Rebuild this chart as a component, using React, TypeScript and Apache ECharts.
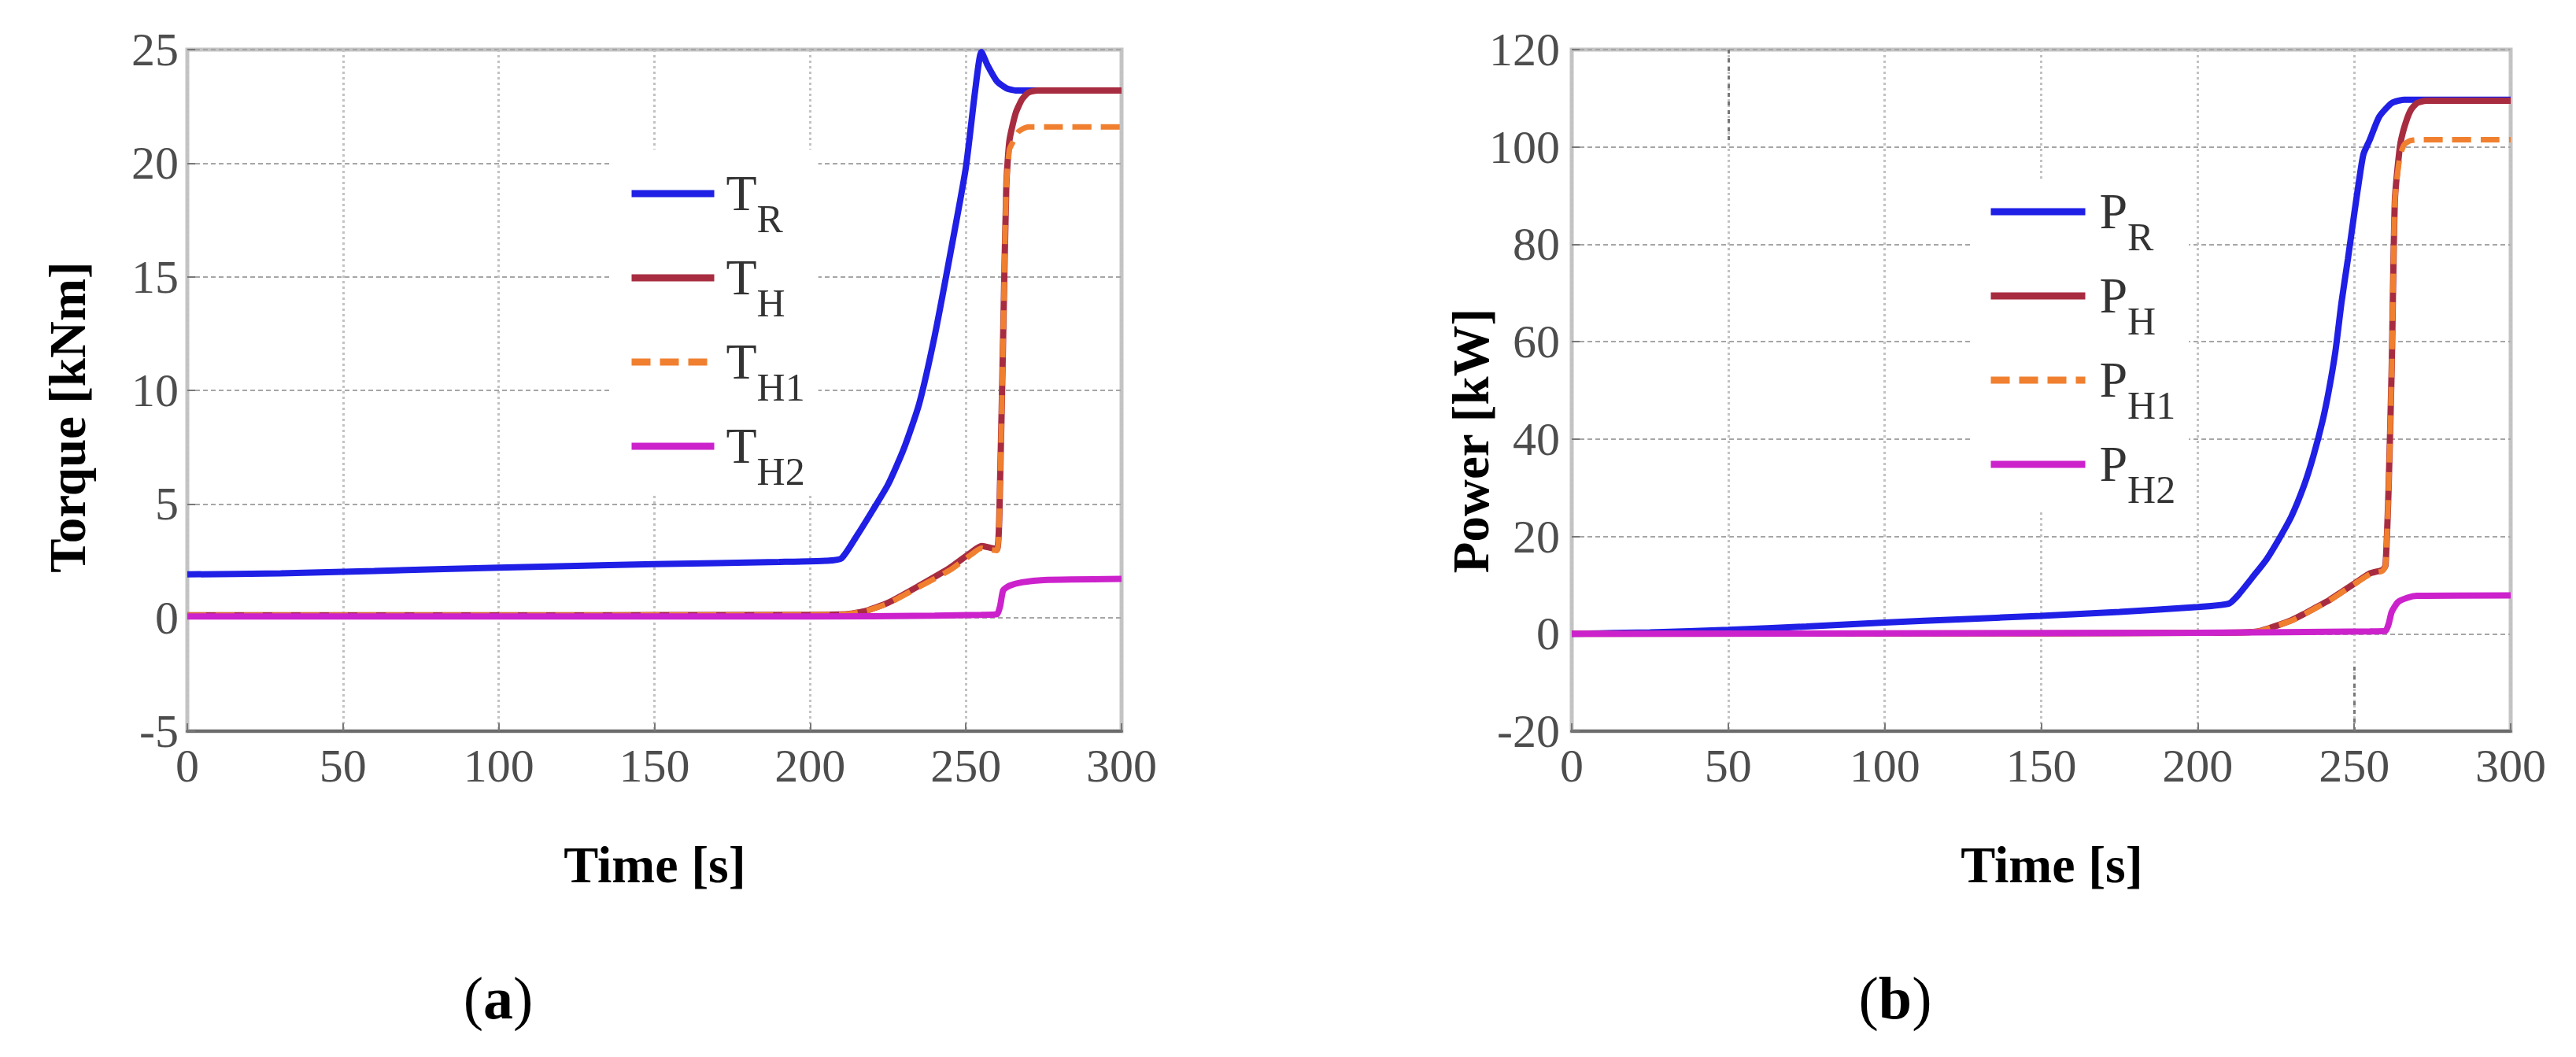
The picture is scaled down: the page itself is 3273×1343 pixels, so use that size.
import { useEffect, useRef } from "react";
import * as echarts from "echarts";

// [time s, torque kNm]
const torqueR: [number, number][] = [
  [0, 1.9], [30, 1.95], [60, 2.05], [100, 2.2], [150, 2.35], [190, 2.45], [205, 2.5], [210, 2.6],
  [215, 3.6], [220, 4.7], [225, 5.85], [230, 7.4], [235, 9.4], [240, 12.4], [245, 16.0], [250, 19.8],
  [253, 23.2], [255, 24.9], [257, 24.3], [260, 23.6], [263, 23.3], [266, 23.2], [300, 23.2],
];
const torqueH: [number, number][] = [
  [0, 0.1], [100, 0.1], [200, 0.12], [212, 0.15], [218, 0.3], [225, 0.65], [235, 1.4], [245, 2.2],
  [252, 2.9], [255, 3.15], [257, 3.1], [260, 3.0], [261, 6], [262, 12.5], [263, 19], [264, 21],
  [266, 22.2], [268, 22.8], [270, 23.1], [273, 23.2], [300, 23.2],
];
const torqueH1: [number, number][] = [
  [0, 0.1], [100, 0.1], [200, 0.12], [212, 0.15], [218, 0.3], [225, 0.62], [235, 1.35], [245, 2.1],
  [252, 2.8], [255, 3.05], [257, 3.0], [260, 2.95], [261, 6], [262, 12.5], [263, 19], [264, 20.6],
  [265, 20.9], [267, 21.4], [270, 21.6], [300, 21.6],
];
const torqueH2: [number, number][] = [
  [0, 0.05], [100, 0.05], [200, 0.05], [240, 0.08], [255, 0.12], [260, 0.15], [261, 0.5], [262, 1.2],
  [264, 1.4], [268, 1.55], [275, 1.65], [300, 1.7],
];

// [time s, power kW]
const powerR: [number, number][] = [
  [0, 0], [25, 0.3], [50, 0.8], [75, 1.5], [100, 2.3], [125, 3.0], [150, 3.7], [175, 4.5], [200, 5.5],
  [210, 6.2], [213, 8], [218, 12], [222, 15.3], [226, 19.5], [230, 24.2], [234, 30.5], [237, 36.6],
  [240, 44], [242, 50.3], [244, 58], [246, 68.3], [248, 77], [250, 86.2], [252, 95], [253, 98.6],
  [255, 101.5], [258, 106.2], [262, 109], [266, 109.7], [300, 109.7],
];
const powerH: [number, number][] = [
  [0, 0], [150, 0.1], [200, 0.2], [215, 0.3], [220, 0.6], [224, 1.4], [230, 2.8], [234, 4.1],
  [238, 5.5], [242, 6.9], [246, 8.6], [250, 10.3], [255, 12.4], [259, 13.1], [260, 14], [261, 30],
  [262, 55], [263, 89], [264.6, 100], [266, 104], [268, 107.5], [270, 109], [273, 109.5], [300, 109.5],
];
const powerH1: [number, number][] = [
  [0, 0], [150, 0.1], [200, 0.2], [215, 0.3], [220, 0.6], [224, 1.4], [230, 2.7], [234, 4.0],
  [238, 5.4], [242, 6.8], [246, 8.5], [250, 10.2], [255, 12.2], [259, 12.9], [260, 14], [261, 30],
  [262, 55], [263, 89], [264.6, 98], [266, 100.5], [268, 101.3], [272, 101.5], [300, 101.5],
];
const powerH2: [number, number][] = [
  [0, 0], [200, 0.2], [255, 0.5], [260, 0.6], [261, 2], [262, 4.5], [264, 6.5], [267, 7.4],
  [270, 7.8], [300, 7.9],
];

const torqueNames = ["T_R", "T_H", "T_H1", "T_H2"];
const powerNames = ["P_R", "P_H", "P_H1", "P_H2"];

const SERIF = "Liberation Serif";
const BLUE = "#1f1fe6";
const MAROON = "#a82c40";
const ORANGE = "#f08030";
const MAGENTA = "#cc22cc";

const legendRich = {
  m: { fontSize: 64, fontFamily: SERIF, color: "#333", lineHeight: 66, verticalAlign: "top", padding: [0, 0, 0, 10] },
  s: { fontSize: 50, fontFamily: SERIF, color: "#333", lineHeight: 50, verticalAlign: "top", padding: [40, 0, 0, 0] },
};

const subFormatter = (name: string) => {
  const [a, b] = name.split("_");
  return `{m|${a}}{s|${b}}`;
};

function lineSeries(name: string, data: [number, number][], color: string, idx: number, dashed = false) {
  return {
    name,
    type: "line",
    xAxisIndex: idx,
    yAxisIndex: idx,
    data,
    symbol: "none",
    smooth: 0.2,
    lineStyle: { color, width: dashed ? 7 : 8, type: dashed ? [24, 12] : "solid" },
    itemStyle: { color },
  };
}

function axisPair(idx: number, min: number, max: number, interval: number, labelMargin: number) {
  const label = { fontSize: 60, fontFamily: SERIF, color: "#4d4d4d" };
  const x = {
    type: "value",
    gridIndex: idx,
    min: 0,
    max: 300,
    interval: 50,
    axisLine: { show: true, onZero: false, lineStyle: { color: "#6b6b6b", width: 4 } },
    axisTick: { show: true, inside: true, length: 10, lineStyle: { color: "#777", width: 2 } },
    axisLabel: { ...label, margin: 14 },
    splitLine: { show: true, lineStyle: { color: "#c2c2c2", width: 3, type: [3, 4] } },
  };
  const y = {
    type: "value",
    gridIndex: idx,
    min,
    max,
    interval,
    axisLine: { show: false, onZero: false },
    axisTick: { show: true, inside: true, length: 10, lineStyle: { color: "#777", width: 2 } },
    axisLabel: { ...label, margin: labelMargin },
    splitLine: { show: true, lineStyle: { color: "#a6a6a6", width: 2, type: [6, 4] } },
  };
  return { x, y };
}

export default function App() {
  const ref = useRef<HTMLDivElement>(null);

  useEffect(() => {
    document.body.style.margin = "0";
    if (!ref.current) return;
    const chart = echarts.init(ref.current, undefined, { renderer: "svg" });
    const left = axisPair(0, -5, 25, 5, 11);
    const right = axisPair(1, -20, 120, 20, 15);

    chart.setOption({
      animation: false,
      backgroundColor: "#fff",
      textStyle: { fontFamily: SERIF },
      grid: [
        { left: 238, top: 63, width: 1187, height: 866, show: true, borderColor: "#c4c4c4", borderWidth: 5, backgroundColor: "#fff" },
        { left: 1997, top: 63, width: 1193, height: 866, show: true, borderColor: "#c4c4c4", borderWidth: 5, backgroundColor: "#fff" },
      ],
      xAxis: [left.x, right.x],
      yAxis: [left.y, right.y],
      legend: [
        {
          data: torqueNames,
          orient: "vertical",
          left: 778,
          top: 190,
          padding: [23, 17, 3, 20],
          itemGap: 17,
          itemWidth: 105,
          itemHeight: 14,
          backgroundColor: "#fff",
          selectedMode: false,
          lineStyle: { width: 9 },
          itemStyle: { opacity: 0 },
          formatter: subFormatter,
          textStyle: { rich: legendRich },
        },
        {
          data: powerNames,
          orient: "vertical",
          left: 2505,
          top: 230,
          padding: [6, 17, 3, 20],
          itemGap: 17,
          itemWidth: 120,
          itemHeight: 14,
          backgroundColor: "#fff",
          selectedMode: false,
          lineStyle: { width: 9 },
          itemStyle: { opacity: 0 },
          formatter: subFormatter,
          textStyle: { rich: { ...legendRich, m: { ...legendRich.m, padding: [0, 0, 0, 13] } } },
        },
      ],
      series: [
        lineSeries("T_R", torqueR, BLUE, 0),
        lineSeries("T_H", torqueH, MAROON, 0),
        lineSeries("T_H1", torqueH1, ORANGE, 0, true),
        lineSeries("T_H2", torqueH2, MAGENTA, 0),
        {
          ...lineSeries("P_R", powerR, BLUE, 1),
          markLine: {
            silent: true,
            symbol: "none",
            label: { show: false },
            lineStyle: { color: "#777", width: 3, type: [5, 6] },
            data: [
              [{ coord: [50, 120] }, { coord: [50, 101] }],
              [{ coord: [250, -20] }, { coord: [250, -6] }],
            ],
          },
        },
        lineSeries("P_H", powerH, MAROON, 1),
        lineSeries("P_H1", powerH1, ORANGE, 1, true),
        lineSeries("P_H2", powerH2, MAGENTA, 1),
      ],
      graphic: [
        {
          type: "text", x: 86, y: 530, rotation: Math.PI / 2,
          style: { text: "Torque [kNm]", fontSize: 65, fontWeight: "bold", fontFamily: SERIF, fill: "#000", align: "center", verticalAlign: "middle" },
        },
        {
          type: "text", x: 1869, y: 560, rotation: Math.PI / 2,
          style: { text: "Power [kW]", fontSize: 65, fontWeight: "bold", fontFamily: SERIF, fill: "#000", align: "center", verticalAlign: "middle" },
        },
        {
          type: "text", x: 832, y: 1098,
          style: { text: "Time [s]", fontSize: 66, fontWeight: "bold", fontFamily: SERIF, fill: "#000", align: "center", verticalAlign: "middle" },
        },
        {
          type: "text", x: 2607, y: 1098,
          style: { text: "Time [s]", fontSize: 66, fontWeight: "bold", fontFamily: SERIF, fill: "#000", align: "center", verticalAlign: "middle" },
        },
        {
          type: "text", x: 633, y: 1268,
          style: {
            text: "{p|(}{b|a}{p|)}", align: "center", verticalAlign: "middle",
            rich: { p: { fontSize: 76, fontFamily: SERIF, fill: "#000" }, b: { fontSize: 76, fontFamily: SERIF, fontWeight: "bold", fill: "#000" } },
          },
        },
        {
          type: "text", x: 2408, y: 1268,
          style: {
            text: "{p|(}{b|b}{p|)}", align: "center", verticalAlign: "middle",
            rich: { p: { fontSize: 76, fontFamily: SERIF, fill: "#000" }, b: { fontSize: 76, fontFamily: SERIF, fontWeight: "bold", fill: "#000" } },
          },
        },
      ],
    });

    return () => chart.dispose();
  }, []);

  return <div ref={ref} style={{ width: 3273, height: 1343 }} />;
}
